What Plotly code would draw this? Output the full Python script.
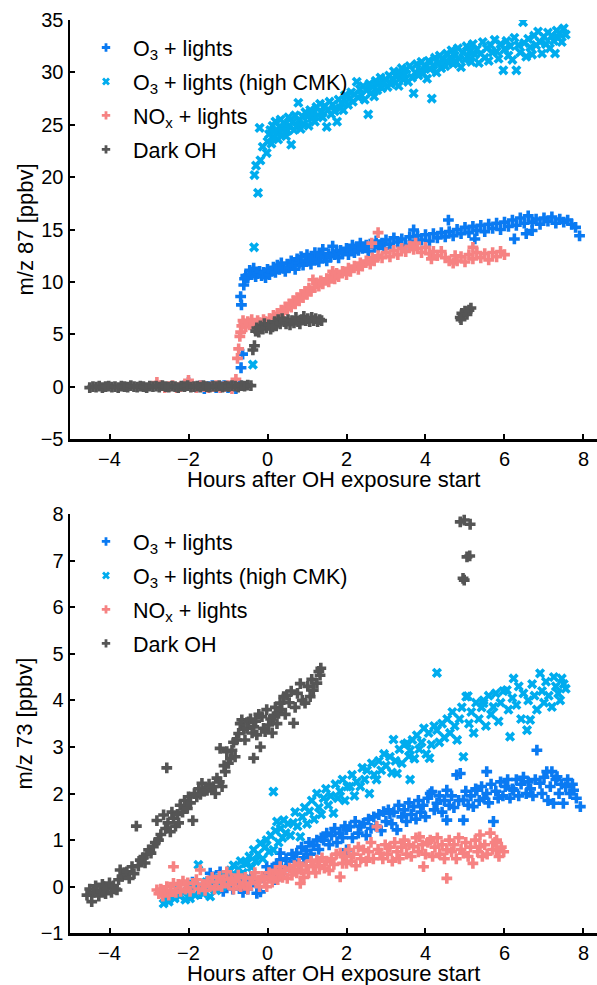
import plotly.graph_objects as go

# ---------------- data ----------------
# Top panel: m/z 87
top_o3 = [(-2.1,0.1),(-2.0,0.4),(-1.9,0.0),(-1.8,-0.1),(-1.7,0.1),(-1.6,-0.2),(-1.5,0.0),(-1.4,0.1),(-1.3,-0.1),(-1.2,0.0),
 (-1.1,0.1),(-1.0,-0.1),(-0.9,0.0),(-0.8,-0.2),(-0.7,0.1),(-0.67,1.8),(-0.63,3.1),(-0.66,7.8),(-0.68,8.6),(-0.6,9.7),
 (-0.58,10.3),(-0.55,10.6),(-0.5,10.4),(-0.45,11.1),(-0.4,10.7),(-0.35,11.3),(-0.3,10.5),(-0.25,10.8),(-0.2,11.0),(-0.15,10.6),
 (-0.1,10.9),(-0.05,10.4),(0.0,11.2),(0.05,10.7),(0.1,11.0),(0.15,11.4),(0.2,10.9),(0.25,11.6),(0.3,11.2),(0.35,11.8),
 (0.4,11.3),(0.45,11.0),(0.5,11.7),(0.55,11.4),(0.6,12.0),(0.65,11.6),(0.7,11.2),(0.75,12.2),(0.8,11.8),(0.85,12.4),
 (0.9,11.6),(0.95,12.0),(1.0,12.6),(1.05,12.0),(1.1,11.7),(1.15,12.3),(1.2,12.8),(1.25,12.1),(1.3,11.9),(1.35,12.5),
 (1.4,13.1),(1.45,12.3),(1.5,12.0),(1.55,12.7),(1.6,12.4),(1.65,13.4),(1.7,12.6),(1.75,12.9),(1.8,12.3),(1.85,13.0),
 (1.9,12.7),(2.0,13.2),(2.05,12.6),(2.1,13.0),(2.15,13.5),(2.2,12.8),(2.25,13.3),(2.3,13.0),(2.35,13.7),(2.4,13.2),
 (2.5,13.5),(2.55,12.9),(2.6,13.6),(2.7,13.3),(2.75,13.9),(2.8,13.4),(2.9,13.7),(2.95,13.2),(3.0,14.0),(3.1,13.6),
 (3.2,14.2),(3.3,13.8),(3.4,14.1),(3.5,13.5),(3.6,14.3),(3.7,14.95),(3.75,13.9),(3.8,14.4),(3.9,14.0),(4.0,14.5),
 (4.1,13.9),(4.2,14.6),(4.3,14.2),(4.4,14.7),(4.5,14.3),(4.58,15.9),(4.6,14.8),(4.7,14.4),(4.8,15.0),(4.9,14.6),
 (5.0,15.2),(5.1,14.7),(5.2,15.3),(5.25,14.1),(5.3,14.9),(5.4,15.4),(5.5,14.8),(5.6,15.5),(5.7,15.1),(5.8,15.6),
 (5.9,15.0),(6.0,15.7),(6.1,15.3),(6.2,15.9),(6.25,14.1),(6.3,15.4),(6.4,16.1),(6.5,15.6),(6.55,14.6),(6.6,16.3),
 (6.7,15.7),(6.7,14.9),(6.8,16.0),(6.9,15.5),(7.0,16.1),(7.1,15.8),(7.2,16.2),(7.3,15.6),(7.4,16.0),(7.5,15.7),
 (7.6,15.9),(7.7,15.5),(7.8,15.2),(7.9,14.4)]

top_cmk = [(-0.37,2.1),(-0.34,13.3),(-0.24,18.5),(-0.33,20.2),(-0.29,21.1),(-0.18,21.6),(-0.12,22.9),(-0.02,22.3),(-0.2,24.7),
 (0.0,23.4),(0.04,24.1),(0.07,24.5),(0.1,23.2),(0.13,24.9),(0.16,23.8),(0.2,25.3),(0.23,24.2),(0.27,23.6),(0.3,24.8),
 (0.33,25.5),(0.36,24.0),(0.4,24.6),(0.43,25.1),(0.47,23.9),(0.5,24.4),(0.53,25.7),(0.57,24.9),(0.6,23.1),(0.63,25.2),
 (0.67,24.5),(0.7,25.9),(0.74,24.8),(0.78,27.1),(0.8,25.4),(0.84,24.6),(0.88,25.8),(0.92,25.1),(0.96,26.2),(1.0,25.8),
 (1.04,24.9),(1.08,26.4),(1.12,25.6),(1.16,26.1),(1.2,25.3),(1.24,26.7),(1.28,25.9),(1.33,27.0),(1.36,26.2),(1.4,25.7),
 (1.45,26.8),(1.5,24.8),(1.53,26.4),(1.57,27.2),(1.61,26.0),(1.65,26.9),(1.7,26.3),(1.76,25.3),(1.8,27.4),(1.84,26.6),
 (1.88,27.1),(1.92,26.4),(1.96,27.8),(2.0,27.7),(2.04,26.9),(2.08,27.5),(2.12,28.1),(2.16,27.2),(2.2,27.9),(2.26,29.1),
 (2.3,27.6),(2.34,28.4),(2.38,27.8),(2.42,28.7),(2.46,27.4),(2.5,28.3),(2.55,26.0),(2.58,28.9),(2.62,28.0),(2.66,28.6),
 (2.7,27.7),(2.74,29.2),(2.78,28.3),(2.82,28.9),(2.86,29.5),(2.9,28.5),(2.94,29.1),(3.0,29.3),(3.04,28.6),(3.08,29.7),
 (3.12,28.9),(3.16,29.4),(3.2,30.1),(3.24,29.0),(3.28,29.6),(3.32,28.7),(3.36,29.9),(3.4,30.4),(3.44,29.3),(3.48,29.8),
 (3.52,30.3),(3.56,29.1),(3.6,30.6),(3.66,29.5),(3.7,28.0),(3.74,30.0),(3.78,30.8),(3.82,29.7),(3.86,30.2),(3.9,31.0),
 (3.94,29.9),(4.0,30.5),(4.04,29.4),(4.08,31.1),(4.12,30.3),(4.16,27.5),(4.2,30.7),(4.24,31.4),(4.28,30.0),(4.32,30.9),
 (4.36,31.6),(4.4,30.4),(4.44,31.2),(4.5,30.6),(4.54,31.8),(4.58,30.9),(4.62,31.4),(4.66,32.1),(4.7,30.8),(4.74,31.6),
 (4.78,31.0),(4.82,32.3),(4.86,31.3),(4.9,30.5),(4.95,31.9),(5.0,31.2),(5.04,32.5),(5.08,31.5),(5.12,32.0),(5.16,31.0),
 (5.2,32.7),(5.25,31.7),(5.3,32.2),(5.35,30.9),(5.4,31.8),(5.45,32.9),(5.5,31.4),(5.55,32.3),(5.6,31.1),(5.65,32.6),
 (5.7,31.9),(5.75,33.1),(5.8,32.0),(5.85,31.3),(5.9,32.7),(5.97,30.2),(6.0,32.2),(6.05,33.0),(6.1,31.6),(6.15,32.5),
 (6.2,31.2),(6.25,33.3),(6.3,30.2),(6.35,32.6),(6.4,31.9),(6.47,34.8),(6.5,32.8),(6.55,31.5),(6.6,33.2),(6.65,32.4),
 (6.7,31.7),(6.75,33.5),(6.8,32.6),(6.85,33.9),(6.9,32.9),(6.95,31.8),(7.0,33.4),(7.05,32.7),(7.1,33.8),(7.15,32.3),
 (7.2,33.5),(7.25,33.0),(7.28,31.8),(7.32,34.0),(7.36,33.3),(7.4,33.7),(7.45,32.9),(7.5,34.2),(7.55,33.6)]

top_nox = [(-2.8,0.4),(-2.7,0.1),(-2.6,-0.1),(-2.5,0.0),(-2.4,0.1),(-2.3,-0.1),(-2.2,0.0),(-2.1,0.1),(-2.0,0.6),(-1.9,0.0),
 (-1.8,-0.1),(-1.7,0.1),(-1.6,0.0),(-1.5,-0.1),(-1.4,0.0),(-1.3,0.1),(-1.2,-0.1),(-1.1,0.0),(-1.0,0.1),(-0.9,-0.2),
 (-0.8,0.7),(-0.76,2.7),(-0.73,3.6),(-0.7,4.8),(-0.68,5.2),(-0.65,5.8),(-0.62,6.3),(-0.6,6.0),(-0.55,5.7),(-0.5,6.2),
 (-0.45,5.9),(-0.4,6.4),(-0.35,6.0),(-0.3,5.8),(-0.25,6.3),(-0.2,6.1),(-0.15,5.9),(-0.1,6.4),(-0.05,6.2),(0.0,6.0),
 (0.05,6.5),(0.1,6.3),(0.15,6.8),(0.2,6.5),(0.25,7.0),(0.3,6.8),(0.35,7.3),(0.4,7.0),(0.45,7.6),(0.5,7.4),
 (0.55,7.9),(0.6,7.6),(0.65,8.2),(0.7,7.9),(0.75,8.5),(0.8,8.2),(0.85,8.8),(0.9,8.5),(0.95,9.1),(1.0,8.8),
 (1.05,9.4),(1.1,9.1),(1.15,10.2),(1.2,9.5),(1.25,9.9),(1.3,9.6),(1.35,10.1),(1.4,9.8),(1.5,10.3),(1.55,10.0),
 (1.6,10.6),(1.65,11.0),(1.7,10.3),(1.75,10.8),(1.8,10.5),(1.9,11.0),(2.0,10.7),(2.05,11.3),(2.1,11.0),(2.2,11.5),
 (2.3,11.2),(2.35,11.8),(2.4,11.5),(2.5,12.0),(2.6,11.7),(2.64,13.7),(2.65,12.3),(2.7,12.0),(2.8,12.5),(2.8,14.7),
 (2.9,12.3),(3.0,12.8),(3.1,12.4),(3.2,13.0),(3.3,12.6),(3.4,13.2),(3.5,12.9),(3.6,13.4),(3.7,13.1),(3.75,13.7),
 (3.8,13.2),(3.9,12.8),(4.0,13.3),(4.1,12.7),(4.15,12.2),(4.2,12.9),(4.3,12.5),(4.4,12.9),(4.5,12.3),(4.6,12.0),
 (4.7,11.8),(4.75,12.5),(4.8,12.0),(4.9,12.4),(5.0,11.9),(5.1,12.6),(5.2,12.2),(5.2,13.3),(5.3,12.8),(5.4,12.3),
 (5.5,12.7),(5.6,12.1),(5.7,12.8),(5.8,12.4),(5.9,12.9),(6.0,12.6)]

top_dark = [(-4.5,-0.1),(-4.42,0.0),(-4.34,-0.05),(-4.26,0.05),(-4.18,-0.1),(-4.1,0.0),(-4.02,0.05),(-3.94,-0.05),
 (-3.86,0.0),(-3.78,-0.1),(-3.7,0.05),(-3.62,0.0),(-3.54,-0.05),(-3.46,0.1),(-3.38,0.0),(-3.3,-0.05),(-3.22,0.05),
 (-3.14,0.0),(-3.06,-0.1),(-2.98,0.05),(-2.9,0.0),(-2.82,0.05),(-2.74,-0.05),(-2.66,0.1),(-2.58,0.0),(-2.5,-0.05),
 (-2.42,0.05),(-2.34,0.0),(-2.26,-0.1),(-2.18,0.05),(-2.1,0.0),(-2.02,0.1),(-1.94,-0.05),(-1.86,0.0),(-1.78,0.05),
 (-1.7,-0.05),(-1.62,0.1),(-1.54,0.0),(-1.46,-0.05),(-1.38,0.05),(-1.3,0.0),(-1.22,0.1),(-1.14,-0.05),(-1.06,0.05),
 (-0.98,0.0),(-0.9,0.1),(-0.82,0.05),(-0.74,-0.05),(-0.66,0.1),(-0.58,0.05),(-0.5,0.15),(-0.42,0.1),
 (-0.37,3.5),(-0.33,3.9),(-0.3,5.3),(-0.27,5.6),(-0.22,5.2),(-0.18,5.8),(-0.12,5.5),(-0.08,6.0),(-0.03,5.6),(0.03,5.9),
 (0.08,5.5),(0.13,5.7),(0.18,6.2),(0.22,5.8),(0.27,6.4),(0.32,6.0),(0.37,6.5),(0.42,6.2),(0.47,6.0),(0.52,6.4),
 (0.57,5.9),(0.62,6.3),(0.67,6.1),(0.72,6.6),(0.77,6.2),(0.82,6.0),(0.87,6.4),(0.92,6.7),(0.97,6.3),(1.02,6.5),
 (1.07,6.2),(1.12,6.6),(1.17,6.3),(1.22,6.5),(1.27,6.2),(1.32,6.4),(1.37,6.3),
 (4.88,6.6),(4.92,7.0),(4.95,6.8),(5.0,7.2),(5.05,6.9),(5.1,7.3),(5.15,7.5),(4.9,6.4)]

# Bottom panel: m/z 73
bot_o3 = [(-2.0,-0.05),(-1.9,0.1),(-1.79,0.05),(-1.7,-0.15),(-1.6,0.0),(-1.53,0.11),(-1.45,0.29),(-1.38,-0.05),(-1.3,0.1),
 (-1.2,0.32),(-1.12,-0.1),(-1.05,0.05),(-0.95,0.15),(-0.88,-0.05),(-0.8,0.2),(-0.7,0.05),(-0.62,-0.12),(-0.55,0.15),
 (-0.5,-0.05),(-0.42,0.22),(-0.35,0.1),(-0.27,-0.14),(-0.18,-0.11),(-0.1,0.2),(-0.02,0.43),(0.05,0.25),(0.12,0.4),
 (0.2,0.15),(0.26,0.5),(0.32,0.57),(0.32,0.72),(0.4,0.35),(0.47,0.6),(0.55,0.45),(0.62,0.7),(0.68,0.55),(0.74,0.72),
 (0.8,0.5),(0.86,0.85),(0.92,0.62),(0.98,0.78),(1.05,0.95),(1.1,0.7),(1.16,0.88),(1.25,1.0),(1.3,0.8),(1.36,1.05),
 (1.42,1.0),(1.5,1.15),(1.56,0.9),(1.62,1.1),(1.7,1.25),(1.76,0.95),(1.82,1.15),(1.9,1.05),(1.96,1.3),(2.0,1.22),
 (2.0,0.79),(2.09,1.29),(2.15,1.05),(2.22,1.4),(2.3,1.15),(2.36,1.3),(2.43,1.36),(2.5,1.1),(2.56,1.45),(2.62,1.25),
 (2.69,1.5),(2.75,1.3),(2.82,1.55),(2.88,1.2),(2.94,1.61),(3.0,1.4),(3.06,1.65),(3.1,1.57),(3.15,1.35),(3.2,1.6),
 (3.28,1.22),(3.32,1.75),(3.4,1.5),(3.46,1.65),(3.52,1.4),(3.58,1.8),(3.64,1.55),(3.7,1.72),(3.76,1.45),(3.82,1.85),
 (3.88,1.6),(3.94,1.75),(4.0,1.5),(4.06,1.9),(4.12,2.0),(4.16,2.04),(4.22,1.65),(4.29,1.79),(4.35,1.95),(4.42,1.6),
 (4.48,1.85),(4.54,2.07),(4.54,1.43),(4.6,1.75),(4.66,1.95),(4.72,1.7),(4.79,2.4),(4.84,1.85),(4.88,2.43),(4.96,1.86),
 (4.96,1.43),(5.02,2.05),(5.08,1.75),(5.15,1.95),(5.21,1.72),(5.27,2.1),(5.3,2.07),(5.36,1.85),(5.42,2.15),(5.48,1.9),
 (5.55,2.0),(5.55,2.47),(5.6,1.8),(5.66,2.2),(5.72,1.4),(5.78,2.05),(5.84,1.9),(5.9,2.25),(5.96,1.95),(6.02,2.15),
 (6.08,2.3),(6.14,1.9),(6.2,2.1),(6.23,2.07),(6.3,2.3),(6.36,1.95),(6.42,2.2),(6.48,2.35),(6.55,2.0),(6.6,2.25),
 (6.66,2.1),(6.72,1.95),(6.78,2.3),(6.82,2.93),(6.9,2.22),(6.95,2.0),(7.0,2.35),(7.07,2.47),(7.1,1.85),(7.16,2.15),
 (7.2,2.47),(7.24,1.79),(7.3,2.3),(7.33,2.36),(7.38,2.0),(7.44,2.2),(7.49,1.79),(7.55,2.15),(7.6,2.3),(7.66,2.0),
 (7.72,2.2),(7.75,2.07),(7.82,1.9),(7.92,1.72)]

bot_cmk = [(-2.63,-0.36),(-2.55,-0.2),(-2.5,-0.32),(-2.42,-0.15),(-2.35,-0.25),(-2.3,-0.05),(-2.22,-0.2),(-2.15,-0.1),
 (-2.08,-0.28),(-2.0,-0.12),(-1.96,-0.25),(-1.9,0.05),(-1.83,-0.18),(-1.75,0.47),(-1.7,-0.05),(-1.63,-0.15),(-1.55,0.1),
 (-1.48,-0.05),(-1.45,-0.21),(-1.38,0.12),(-1.3,-0.08),(-1.22,0.18),(-1.15,0.0),(-1.08,0.25),(-1.0,0.1),(-0.94,0.35),
 (-0.86,0.46),(-0.8,0.2),(-0.74,0.38),(-0.68,0.55),(-0.62,0.3),(-0.56,0.5),(-0.52,0.5),(-0.46,0.65),(-0.4,0.42),
 (-0.35,0.79),(-0.3,0.55),(-0.24,0.7),(-0.18,0.93),(-0.12,0.6),(-0.06,0.85),(-0.02,1.0),(0.04,0.75),(0.08,1.1),
 (0.15,0.79),(0.15,2.04),(0.2,1.2),(0.24,1.4),(0.28,0.95),(0.33,1.25),(0.38,1.05),(0.41,1.43),(0.46,1.15),(0.52,1.35),
 (0.58,1.1),(0.65,1.37),(0.7,1.6),(0.76,1.3),(0.83,1.07),(0.88,1.5),(0.94,1.7),(1.0,1.35),(1.06,1.62),(1.12,1.85),
 (1.18,1.45),(1.25,2.0),(1.3,1.7),(1.36,1.55),(1.42,1.9),(1.48,2.1),(1.54,1.75),(1.6,1.95),(1.67,1.58),(1.72,2.2),
 (1.78,1.9),(1.84,2.05),(1.9,2.3),(1.96,1.85),(2.02,2.15),(2.09,2.15),(2.14,2.4),(2.2,1.95),(2.26,2.25),(2.35,2.15),
 (2.4,2.55),(2.46,2.3),(2.52,2.5),(2.58,2.0),(2.64,2.65),(2.7,2.4),(2.76,2.3),(2.82,2.7),(2.88,2.5),(2.95,2.85),
 (3.0,2.6),(3.1,2.79),(3.15,2.45),(3.19,3.16),(3.24,2.7),(3.28,2.43),(3.34,2.95),(3.4,2.65),(3.46,3.05),(3.53,3.08),
 (3.58,2.8),(3.61,2.93),(3.61,2.3),(3.67,3.15),(3.72,2.75),(3.78,3.25),(3.84,2.95),(3.9,3.1),(3.96,3.4),(4.02,2.85),
 (4.08,3.3),(4.1,2.76),(4.15,3.05),(4.22,3.45),(4.29,3.36),(4.29,4.59),(4.35,3.1),(4.42,3.5),(4.48,3.2),(4.55,3.6),
 (4.62,3.3),(4.68,3.75),(4.74,3.45),(4.8,3.15),(4.86,3.6),(4.92,3.85),(4.96,2.79),(5.03,4.08),(5.07,4.09),(5.1,3.5),
 (5.16,3.75),(5.22,3.3),(5.28,3.95),(5.35,3.6),(5.42,3.85),(5.47,3.94),(5.47,4.0),(5.53,3.45),(5.6,4.1),(5.66,3.7),
 (5.72,3.86),(5.78,4.15),(5.85,3.55),(5.9,3.95),(5.97,4.2),(6.06,4.22),(6.1,3.8),(6.14,3.22),(6.2,4.05),(6.23,4.47),
 (6.3,3.9),(6.36,4.3),(6.42,3.6),(6.48,4.15),(6.57,3.36),(6.6,4.0),(6.65,3.58),(6.7,4.35),(6.76,4.1),(6.82,3.8),
 (6.9,4.58),(6.95,4.2),(7.0,3.95),(7.05,4.4),(7.12,4.1),(7.2,3.86),(7.25,4.5),(7.3,4.3),(7.36,4.15),(7.41,4.0),
 (7.45,4.47),(7.5,4.35),(7.55,4.25)]

bot_nox = [(-2.8,-0.07),(-2.75,-0.15),(-2.7,-0.05),(-2.65,-0.2),(-2.6,-0.1),(-2.55,0.0),(-2.5,-0.18),(-2.45,-0.08),
 (-2.38,0.43),(-2.38,0.07),(-2.32,-0.12),(-2.26,0.05),(-2.2,-0.1),(-2.14,0.12),(-2.08,-0.05),(-2.02,0.08),(-1.96,-0.1),
 (-1.87,0.07),(-1.8,0.15),(-1.74,-0.05),(-1.7,0.36),(-1.64,0.05),(-1.58,-0.08),(-1.52,0.12),(-1.46,0.0),(-1.4,0.2),
 (-1.34,-0.05),(-1.28,0.1),(-1.22,0.22),(-1.16,0.0),(-1.1,0.15),(-1.03,0.32),(-0.98,0.05),(-0.92,0.18),(-0.86,-0.05),
 (-0.8,0.12),(-0.74,0.25),(-0.68,0.0),(-0.61,0.07),(-0.56,0.2),(-0.5,-0.05),(-0.44,0.07),(-0.38,0.18),(-0.32,0.3),
 (-0.26,0.1),(-0.2,0.0),(-0.14,0.22),(-0.08,0.15),(-0.02,0.0),(0.04,0.3),(0.07,0.21),(0.12,0.1),(0.15,0.2),(0.2,0.35),
 (0.26,0.15),(0.32,0.43),(0.32,0.29),(0.38,0.2),(0.44,0.35),(0.5,0.18),(0.56,0.4),(0.62,0.25),(0.68,0.45),(0.74,0.3),
 (0.8,0.5),(0.83,0.07),(0.86,0.36),(0.92,0.2),(0.98,0.45),(1.04,0.3),(1.1,0.55),(1.16,0.43),(1.22,0.3),(1.25,0.57),
 (1.32,0.45),(1.38,0.62),(1.44,0.4),(1.5,0.55),(1.56,0.35),(1.62,0.6),(1.68,0.48),(1.74,0.7),(1.84,0.72),(1.84,0.21),
 (1.9,0.5),(1.96,0.65),(2.0,0.5),(2.06,0.8),(2.12,0.55),(2.18,0.7),(2.24,0.45),(2.3,0.85),(2.36,0.6),(2.43,0.79),
 (2.5,0.55),(2.56,0.75),(2.62,0.95),(2.68,0.6),(2.77,1.29),(2.8,0.8),(2.85,0.72),(2.92,0.6),(2.98,0.9),(3.04,0.7),
 (3.1,0.85),(3.16,0.55),(3.22,0.95),(3.28,0.75),(3.34,0.6),(3.4,0.85),(3.46,1.0),(3.52,0.7),(3.58,0.9),(3.64,0.65),
 (3.7,0.86),(3.76,1.05),(3.82,0.75),(3.85,1.07),(3.92,0.9),(3.95,0.43),(4.0,0.7),(4.06,0.95),(4.12,1.0),(4.18,0.65),
 (4.24,0.85),(4.3,1.05),(4.36,0.7),(4.42,0.9),(4.48,0.6),(4.54,0.79),(4.54,0.18),(4.6,1.0),(4.66,0.75),(4.72,0.9),
 (4.78,0.6),(4.84,1.05),(4.9,0.8),(4.96,0.72),(5.02,0.95),(5.08,0.65),(5.14,0.85),(5.2,0.5),(5.26,1.0),(5.32,0.75),
 (5.38,0.86),(5.38,1.11),(5.44,0.65),(5.5,0.9),(5.56,0.7),(5.64,1.15),(5.7,0.8),(5.76,0.95),(5.8,0.79),(5.8,1.0),
 (5.86,0.65),(5.92,0.85),(5.98,0.75)]

bot_dark = [(-4.57,-0.18),(-4.5,-0.05),(-4.45,-0.32),(-4.4,-0.12),(-4.35,0.02),(-4.32,-0.07),(-4.27,-0.2),(-4.22,-0.1),
 (-4.18,0.05),(-4.15,0.0),(-4.1,-0.15),(-4.05,-0.05),(-4.0,0.08),(-3.95,-0.12),(-3.9,0.02),(-3.85,-0.05),(-3.81,-0.07),
 (-3.77,0.15),(-3.73,0.36),(-3.68,0.22),(-3.63,0.3),(-3.56,0.32),(-3.5,0.18),(-3.43,0.43),(-3.38,0.28),(-3.32,1.3),
 (-3.27,0.45),(-3.22,0.57),(-3.16,0.62),(-3.1,0.51),(-3.05,0.7),(-3.01,0.79),(-2.95,0.72),(-2.89,0.86),(-2.84,0.95),
 (-2.8,1.42),(-2.76,1.0),(-2.7,1.12),(-2.63,1.54),(-2.58,1.25),(-2.55,2.55),(-2.52,1.37),(-2.46,1.18),(-2.42,1.6),
 (-2.38,1.47),(-2.33,1.3),(-2.28,1.55),(-2.25,1.37),(-2.21,1.75),(-2.15,1.6),(-2.1,1.85),(-2.08,1.72),(-2.03,1.68),
 (-2.0,1.93),(-1.95,1.8),(-1.89,1.42),(-1.85,2.0),(-1.79,1.93),(-1.74,2.1),(-1.7,1.98),(-1.66,2.22),(-1.6,2.05),
 (-1.53,2.07),(-1.48,2.2),(-1.42,2.12),(-1.37,2.15),(-1.32,2.0),(-1.28,2.33),(-1.22,2.25),(-1.2,2.97),(-1.15,2.15),
 (-1.1,2.6),(-1.07,2.47),(-1.03,2.9),(-0.99,2.65),(-0.94,2.75),(-0.9,2.93),(-0.86,3.1),(-0.82,2.79),(-0.78,3.15),
 (-0.73,3.29),(-0.69,3.5),(-0.65,3.58),(-0.6,3.38),(-0.57,3.15),(-0.52,3.4),(-0.48,3.54),(-0.43,3.6),(-0.39,3.3),
 (-0.35,2.76),(-0.35,3.43),(-0.3,3.55),(-0.27,3.26),(-0.22,3.7),(-0.18,3.0),(-0.14,3.65),(-0.1,3.4),(-0.06,3.33),
 (-0.02,3.8),(0.03,3.47),(0.08,3.6),(0.12,3.3),(0.15,3.65),(0.2,3.85),(0.24,3.5),(0.28,3.72),(0.32,3.94),(0.36,3.8),
 (0.41,4.08),(0.45,3.7),(0.49,4.11),(0.55,3.95),(0.6,4.2),(0.66,3.51),(0.7,3.85),(0.76,4.15),(0.83,4.36),(0.88,4.0),
 (0.95,3.94),(1.02,4.3),(1.08,4.08),(1.12,4.45),(1.16,4.22),(1.25,4.37),(1.3,4.62),(1.33,4.54),(1.35,4.69),
 (4.88,7.83),(4.98,7.87),(5.13,7.78),(5.05,7.08),(5.12,7.1),(4.98,6.58),(4.95,6.62)]

series_names = ["O<sub>3</sub> + lights", "O<sub>3</sub> + lights (high CMK)",
                "NO<sub>x</sub> + lights", "Dark OH"]
series_colors = ["#0a7af2", "#00acee", "#f68282", "#555555"]
series_symbols = ["cross", "x", "cross", "cross"]

x_ticks = [-4, -2, 0, 2, 4, 6, 8]
top_y_ticks = [-5, 0, 5, 10, 15, 20, 25, 30, 35]
bot_y_ticks = [-1, 0, 1, 2, 3, 4, 5, 6, 7, 8]
x_title = "Hours after OH exposure start"
top_y_title = "m/z 87 [ppbv]"
bot_y_title = "m/z 73 [ppbv]"

top_data = [top_o3, top_cmk, top_nox, top_dark]
bot_data = [bot_o3, bot_cmk, bot_nox, bot_dark]

# ---------------- figure ----------------
W, H = 597, 985
FONT = "Liberation Sans, Arial, Helvetica, sans-serif"
TICK_SIZE = 20
TEXT_SIZE = 21.5
fig = go.Figure()

for (data, xa, ya, lg) in [(top_data, "x", "y", "legend"), (bot_data, "x2", "y2", "legend2")]:
    for i, pts in enumerate(data):
        fig.add_trace(go.Scatter(
            x=[p[0] for p in pts], y=[p[1] for p in pts], mode="markers", xaxis=xa, yaxis=ya,
            showlegend=False, hoverinfo="skip",
            marker=dict(symbol=series_symbols[i], size=9, color=series_colors[i], line=dict(width=0))))
    for i in range(4):
        fig.add_trace(go.Scatter(
            x=[None], y=[None], mode="markers", xaxis=xa, yaxis=ya, name=series_names[i],
            legend=lg, legendgroup=f"{lg}_{i}", showlegend=True,
            marker=dict(symbol=series_symbols[i], size=7, color=series_colors[i], line=dict(width=0))))

x0 = 70 / W
axis_common = dict(showline=True, linecolor="black", linewidth=2.5, ticks="inside", ticklen=5,
                   tickwidth=2, tickcolor="black", showgrid=False, zeroline=False, mirror=False,
                   automargin=False, tickfont=dict(family=FONT, size=TICK_SIZE, color="black"))

top_dom = [1 - 439 / H, 1 - 20 / H]
bot_dom = [1 - 933.3 / H, 1 - 514 / H]
xrange = [-5, 8.342]

legend_common = dict(xanchor="left", yanchor="top", bgcolor="rgba(0,0,0,0)",
                     font=dict(family=FONT, size=TEXT_SIZE, color="black"), tracegroupgap=3,
                     itemwidth=44, itemclick=False, itemdoubleclick=False)

fig.update_layout(
    width=W, height=H, margin=dict(l=0, r=0, t=0, b=0, autoexpand=False),
    paper_bgcolor="white", plot_bgcolor="white",
    font=dict(family=FONT, size=TEXT_SIZE, color="black"),
    xaxis=dict(domain=[x0, 1], range=xrange, tickvals=x_ticks, anchor="y", **axis_common),
    yaxis=dict(domain=top_dom, range=[-5, 35], tickvals=top_y_ticks, anchor="x", **axis_common),
    xaxis2=dict(domain=[x0, 1], range=xrange, tickvals=x_ticks, anchor="y2", **axis_common),
    yaxis2=dict(domain=bot_dom, range=[-1, 8], tickvals=bot_y_ticks, anchor="x2", **axis_common),
    legend=dict(x=79 / W, y=1 - 27 / H, **legend_common),
    legend2=dict(x=79 / W, y=1 - 521 / H, **legend_common),
)

# axis titles as paper-anchored annotations
title_font = dict(family=FONT, size=22, color="black")
cx = (70 + W) / 2 / W
for txt, x, y, ang in [(x_title, cx, 1 - 479 / H, 0), (x_title, cx, 1 - 973 / H, 0),
                       (top_y_title, 25 / W, 1 - 229.5 / H, -90), (bot_y_title, 25 / W, 1 - 723.6 / H, -90)]:
    fig.add_annotation(text=txt, x=x, y=y, xref="paper", yref="paper", xanchor="center", yanchor="middle",
                       showarrow=False, textangle=ang, font=title_font)

# remove the default 8px page margin so the figure fills the window exactly
fig.write_html("out.html",
               config={"displayModeBar": False, "staticPlot": True},
               post_script="document.body.style.margin='0';document.body.style.overflow='hidden';")
